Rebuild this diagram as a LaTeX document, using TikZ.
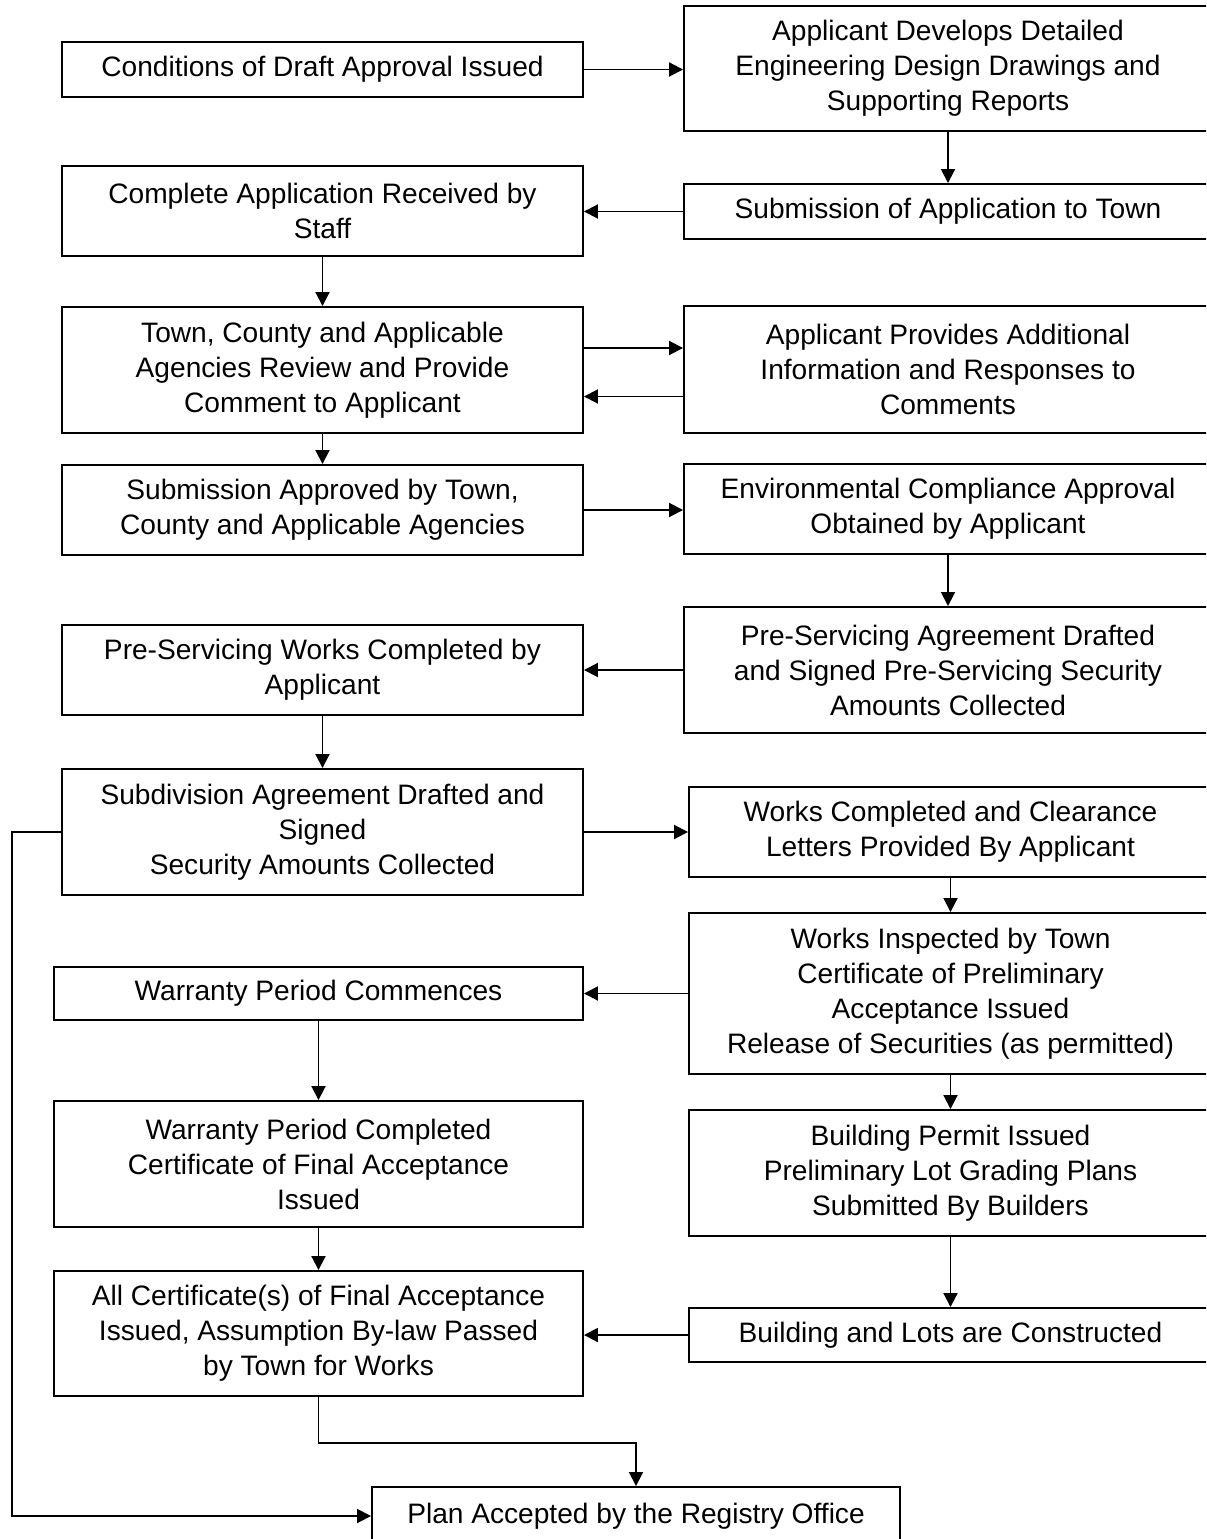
\documentclass[tikz,border=0pt]{standalone}
\usepackage{fontspec}
\setmainfont{Liberation Sans}
\usetikzlibrary{positioning,arrows.meta}
\tikzset{
    box/.style={rectangle,draw,line width=1.1pt,align=center,inner sep=0pt,
        font=\fontsize{16pt}{19.9pt}\selectfont},
    lbox/.style={box,minimum width=10.42cm},
    wbox/.style={box,minimum width=10.58cm},
    rbox/.style={box,minimum width=10.56cm},
    sbox/.style={box,minimum width=10.46cm},
    edge/.style={-{Triangle[length=2.8mm,width=2.8mm]},line width=1.1pt},
}
\begin{document}
\begin{tikzpicture}
\useasboundingbox (0,0) rectangle (24.12,-30.78);
\clip (0,0) rectangle (24.12,-30.78);
% left column
\node[lbox,minimum height=1.10cm] (L1) at (6.45,-1.39)  {Conditions of Draft Approval Issued};
\node[lbox,minimum height=1.80cm] (L2) at (6.45,-4.22)  {Complete Application Received by\\Staff};
\node[lbox,minimum height=2.52cm] (L3) at (6.45,-7.40)  {Town, County and Applicable\\Agencies Review and Provide\\Comment to Applicant};
\node[lbox,minimum height=1.80cm] (L4) at (6.45,-10.20) {Submission Approved by Town,\\County and Applicable Agencies};
\node[lbox,minimum height=1.80cm] (L5) at (6.45,-13.40) {Pre-Servicing Works Completed by\\Applicant};
\node[lbox,minimum height=2.52cm] (L6) at (6.45,-16.64) {Subdivision Agreement Drafted and\\Signed\\Security Amounts Collected};
\node[wbox,minimum height=1.07cm] (L7) at (6.37,-19.87) {Warranty Period Commences};
\node[wbox,minimum height=2.52cm] (L8) at (6.37,-23.28) {Warranty Period Completed\\Certificate of Final Acceptance\\Issued};
\node[wbox,minimum height=2.50cm] (L9) at (6.37,-26.67) {All Certificate(s) of Final Acceptance\\Issued, Assumption By-law Passed\\by Town for Works};

% right column
\node[rbox,minimum height=2.50cm] (R1) at (18.96,-1.37)  {Applicant Develops Detailed\\Engineering Design Drawings and\\Supporting Reports};
\node[rbox,minimum height=1.10cm] (R2) at (18.96,-4.23)  {Submission of Application to Town};
\node[rbox,minimum height=2.54cm] (R3) at (18.96,-7.39)  {Applicant Provides Additional\\Information and Responses to\\Comments};
\node[rbox,minimum height=1.80cm] (R4) at (18.96,-10.18) {Environmental Compliance Approval\\Obtained by Applicant};
\node[rbox,minimum height=2.52cm] (R5) at (18.96,-13.40) {Pre-Servicing Agreement Drafted\\and Signed Pre-Servicing Security\\Amounts Collected};
\node[sbox,minimum height=1.80cm] (R6) at (19.01,-16.64) {Works Completed and Clearance\\Letters Provided By Applicant};
\node[sbox,minimum height=3.22cm] (R7) at (19.01,-19.87) {Works Inspected by Town\\Certificate of Preliminary\\Acceptance Issued\\Release of Securities (as permitted)};
\node[sbox,minimum height=2.52cm] (R8) at (19.01,-23.46) {Building Permit Issued\\Preliminary Lot Grading Plans\\Submitted By Builders};
\node[sbox,minimum height=1.08cm] (R9) at (19.01,-26.70) {Building and Lots are Constructed};

% end
\node[rbox,minimum height=1.16cm] (Plan) at (12.72,-30.32) {Plan Accepted by the Registry Office};
\coordinate (rail) at (0.24,0);

% wiring
\draw[edge] (L1.east) -- (L1.east -| R1.west);
\draw[edge] (R1) -- (R2);
\draw[edge] (R2.west) -- (R2.west -| L2.east);
\draw[edge] (L2) -- (L3);
\draw[edge] ([yshift=0.44cm]L3.east) -- ([yshift=0.44cm]L3.east -| R3.west);
\draw[edge] ([yshift=-0.54cm]R3.west) -- ([yshift=-0.54cm]R3.west -| L3.east);
\draw[edge] (L3) -- (L4);
\draw[edge] (L4.east) -- (L4.east -| R4.west);
\draw[edge] (R4) -- (R5);
\draw[edge] (R5.west) -- (R5.west -| L5.east);
\draw[edge] (L5) -- (L6);
\draw[edge] (L6.east) -- (L6.east -| R6.west);
\draw[edge] (R6) -- (R7);
\draw[edge] (R7.west) -- (R7.west -| L7.east);
\draw[edge] (R7) -- (R8);
\draw[edge] (R8) -- (R9);
\draw[edge] (L7) -- (L8);
\draw[edge] (L8) -- (L9);
\draw[edge] (R9.west) -- (R9.west -| L9.east);
\draw[edge] (L9.south) -- ++(0,-0.92) -| (Plan.north);
\draw[edge] (L6.west) -- (L6.west -| rail) |- (Plan.west);
\end{tikzpicture}
\end{document}
